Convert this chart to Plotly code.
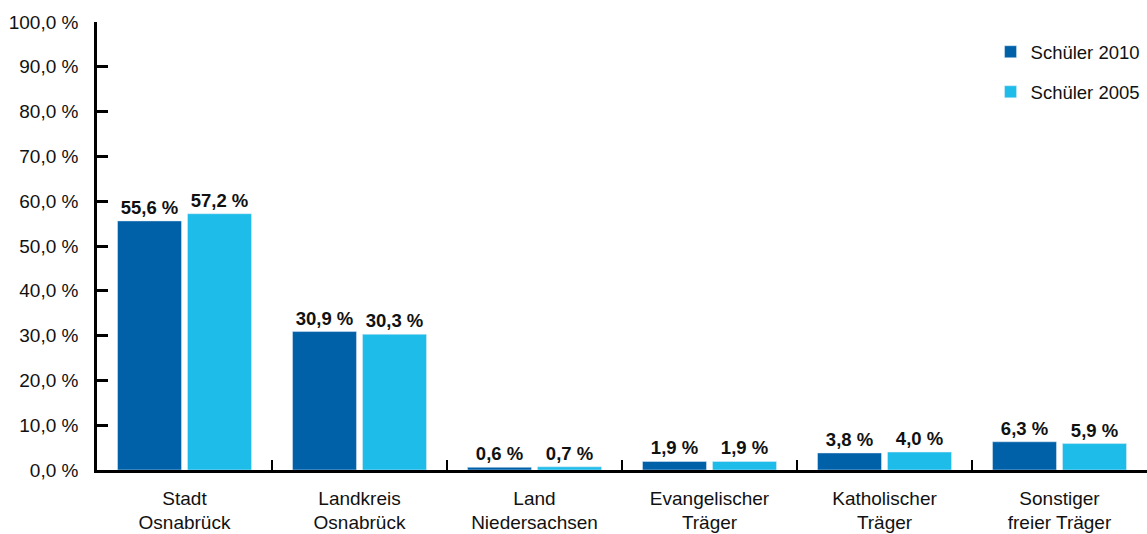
import plotly.graph_objects as go

categories = ["Stadt<br>Osnabrück", "Landkreis<br>Osnabrück", "Land<br>Niedersachsen",
              "Evangelischer<br>Träger", "Katholischer<br>Träger", "Sonstiger<br>freier Träger"]
schueler_2010 = [55.6, 30.9, 0.6, 1.9, 3.8, 6.3]
schueler_2005 = [57.2, 30.3, 0.7, 1.9, 4.0, 5.9]

font = "Liberation Sans, Arial, sans-serif"

fig = go.Figure()
fig.add_trace(go.Bar(
    x=categories, y=schueler_2010, name="Schüler 2010",
    marker_color="#0061a9", legendgroup="a",
    texttemplate="%{y:.1f} %", textposition="outside",
    textfont=dict(family=font, size=18.5, color="#111111", weight="bold"),
    cliponaxis=False,
))
fig.add_trace(go.Bar(
    x=categories, y=schueler_2005, name="Schüler 2005",
    marker_color="#1dbce9", legendgroup="b",
    texttemplate="%{y:.1f} %", textposition="outside",
    textfont=dict(family=font, size=18.5, color="#111111", weight="bold"),
    cliponaxis=False,
))

fig.update_layout(
    width=1147, height=534,
    margin=dict(l=97, r=0, t=22, b=64, autoexpand=False),
    paper_bgcolor="white", plot_bgcolor="white",
    separators=",.",
    barmode="group", bargap=0.2, bargroupgap=0.086,
    font=dict(family=font, size=19, color="#111111"),
    legend=dict(x=0.851, y=0.975, xanchor="left", yanchor="top",
                font=dict(size=18.5), tracegroupgap=13, itemwidth=30,
                bgcolor="rgba(0,0,0,0)"),
)
fig.update_yaxes(
    range=[0, 100], dtick=10, tickformat=".1f", ticksuffix=" %",
    showgrid=False, zeroline=False, automargin=False,
    showline=True, linecolor="black", linewidth=2.5,
    ticks="inside", ticklen=11, tickwidth=2.5, tickcolor="black",
    ticklabelstandoff=12, fixedrange=True,
)
fig.update_xaxes(
    showgrid=False, showline=True, linecolor="black", linewidth=2.5,
    automargin=False,
    ticks="inside", tickson="boundaries", ticklen=10, tickwidth=2, tickcolor="black",
    ticklabelstandoff=9, fixedrange=True,
)

# the page body has a default 8px margin; drop it so the chart fills the window
fig.write_html("out.html", config={"displayModeBar": False},
               post_script="document.body.style.margin='0';")
